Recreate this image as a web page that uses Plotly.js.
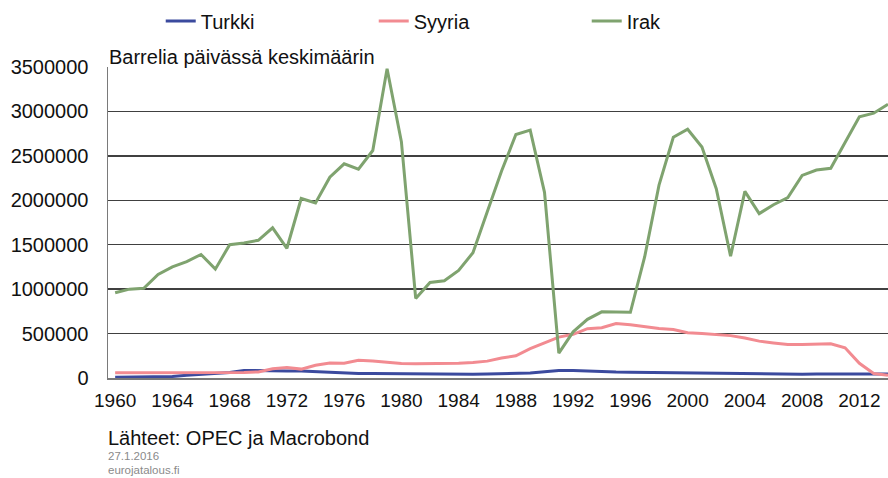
<!DOCTYPE html>
<html>
<head>
<meta charset="utf-8">
<script src="https://cdn.plot.ly/plotly-3.0.1.min.js"></script>
<style>
  html, body { margin: 0; padding: 0; background: #fff; }
  #chart { width: 888px; height: 478px; }
</style>
</head>
<body>
<div id="chart"></div>
<script>
const years = [];
for (let y = 1960; y <= 2014; y++) years.push(y);

const turkki = [8000, 10000, 12000, 15000, 18000, 30000, 40000, 55000, 63000, 85000,
  80000, 80000, 78000, 80000, 72000, 60000, 52000, 52000, 50000, 48000,
  46000, 46000, 45000, 43000, 43000, 43000, 45000, 48000, 50000, 56000,
  70000, 85000, 85000, 78000, 70000, 68000, 66000, 64000, 62000, 58000,
  55000, 52000, 48000, 46000, 44000, 44000, 43000, 42000, 42000, 46000,
  48000, 46000, 45000, 45000, 46000];

const syyria = [58000, 58000, 58000, 58000, 58000, 58000, 58000, 58000, 60000, 62000,
  68000, 105000, 117000, 100000, 143000, 169000, 165000, 200000, 190000, 175000,
  162000, 160000, 160000, 162000, 166000, 175000, 190000, 225000, 250000, 330000,
  395000, 460000, 492000, 555000, 565000, 612000, 598000, 575000, 556000, 545000,
  510000, 500000, 492000, 477000, 450000, 415000, 395000, 378000, 378000, 378000,
  385000, 340000, 165000, 50000, 30000];

const irak = [960000, 1000000, 1010000, 1165000, 1250000, 1310000, 1390000, 1225000, 1500000, 1520000,
  1550000, 1690000, 1460000, 2020000, 1970000, 2260000, 2410000, 2350000, 2560000, 3480000,
  2660000, 895000, 1075000, 1095000, 1210000, 1410000, 1870000, 2330000, 2740000, 2790000,
  2090000, 280000, 520000, 660000, 745000, 740000, 740000, 1365000, 2170000, 2710000,
  2800000, 2600000, 2130000, 1370000, 2100000, 1850000, 1950000, 2030000, 2280000, 2340000,
  2360000, 2650000, 2940000, 2980000, 3080000];

const seriesNames = ['Turkki', 'Syyria', 'Irak'];
const seriesColors = ['#3b4a9e', '#f28b91', '#7fa36f'];
const xTicks = [1960, 1964, 1968, 1972, 1976, 1980, 1984, 1988, 1992, 1996, 2000, 2004, 2008, 2012];
const yTicks = [0, 500000, 1000000, 1500000, 2000000, 2500000, 3000000, 3500000];

const FONT = 'Liberation Sans, Arial, sans-serif';
const allSeries = [turkki, syyria, irak];

const traces = allSeries.map((vals, i) => ({
  type: 'scatter',
  mode: 'lines',
  x: years,
  y: vals,
  name: seriesNames[i],
  line: { color: seriesColors[i], width: 3 },
  hoverinfo: 'skip',
  cliponaxis: true
}));

const layout = {
  width: 888,
  height: 478,
  margin: { l: 108, r: 0, t: 67, b: 100 },
  paper_bgcolor: '#ffffff',
  plot_bgcolor: '#ffffff',
  font: { family: FONT, size: 20, color: '#111' },
  showlegend: true,
  legend: {
    orientation: 'h',
    xref: 'container', yref: 'container',
    x: 0.181, xanchor: 'left',
    y: 0.956, yanchor: 'middle',
    font: { family: FONT, size: 20, color: '#111' },
    itemwidth: 30,
    entrywidth: 168,
    entrywidthmode: 'pixels',
    bgcolor: 'rgba(0,0,0,0)',
    borderwidth: 0
  },
  xaxis: {
    range: [1959.5, 2014],
    tickmode: 'array',
    tickvals: xTicks,
    ticktext: xTicks.map(String),
    showgrid: false,
    zeroline: false,
    showline: true,
    linecolor: '#7a7a7a',
    linewidth: 1.5,
    ticks: '',
    ticklabelstandoff: 5,
    tickfont: { family: FONT, size: 19, color: '#111' },
    fixedrange: true
  },
  yaxis: {
    range: [0, 3500000],
    tickmode: 'array',
    tickvals: yTicks,
    ticktext: yTicks.map(String),
    showgrid: true,
    gridcolor: '#404040',
    gridwidth: 1.5,
    zeroline: false,
    showline: true,
    linecolor: '#7a7a7a',
    linewidth: 1.5,
    ticks: '',
    ticklabelstandoff: 14,
    tickfont: { family: FONT, size: 20, color: '#111' },
    fixedrange: true
  },
  annotations: [
    {
      text: 'Barrelia päivässä keskimäärin',
      xref: 'paper', yref: 'paper',
      x: 0, y: 1, xanchor: 'left', yanchor: 'bottom',
      yshift: -3, xshift: -1,
      showarrow: false,
      font: { family: FONT, size: 20, color: '#111' }
    },
    {
      text: 'Lähteet: OPEC ja Macrobond',
      xref: 'paper', yref: 'paper',
      x: 0, y: (378 - 437.5) / 311, xanchor: 'left', yanchor: 'middle',
      xshift: -2,
      showarrow: false,
      font: { family: FONT, size: 20, color: '#111' }
    },
    {
      text: '27.1.2016',
      xref: 'paper', yref: 'paper',
      x: 0, y: (378 - 455.5) / 311, xanchor: 'left', yanchor: 'middle',
      xshift: -2,
      showarrow: false,
      font: { family: FONT, size: 11.5, color: '#8a8a8a' }
    },
    {
      text: 'eurojatalous.fi',
      xref: 'paper', yref: 'paper',
      x: 0, y: (378 - 470) / 311, xanchor: 'left', yanchor: 'middle',
      xshift: -2,
      showarrow: false,
      font: { family: FONT, size: 11.5, color: '#8a8a8a' }
    }
  ]
};

Plotly.newPlot('chart', traces, layout, { staticPlot: true, displayModeBar: false });
</script>
</body>
</html>
